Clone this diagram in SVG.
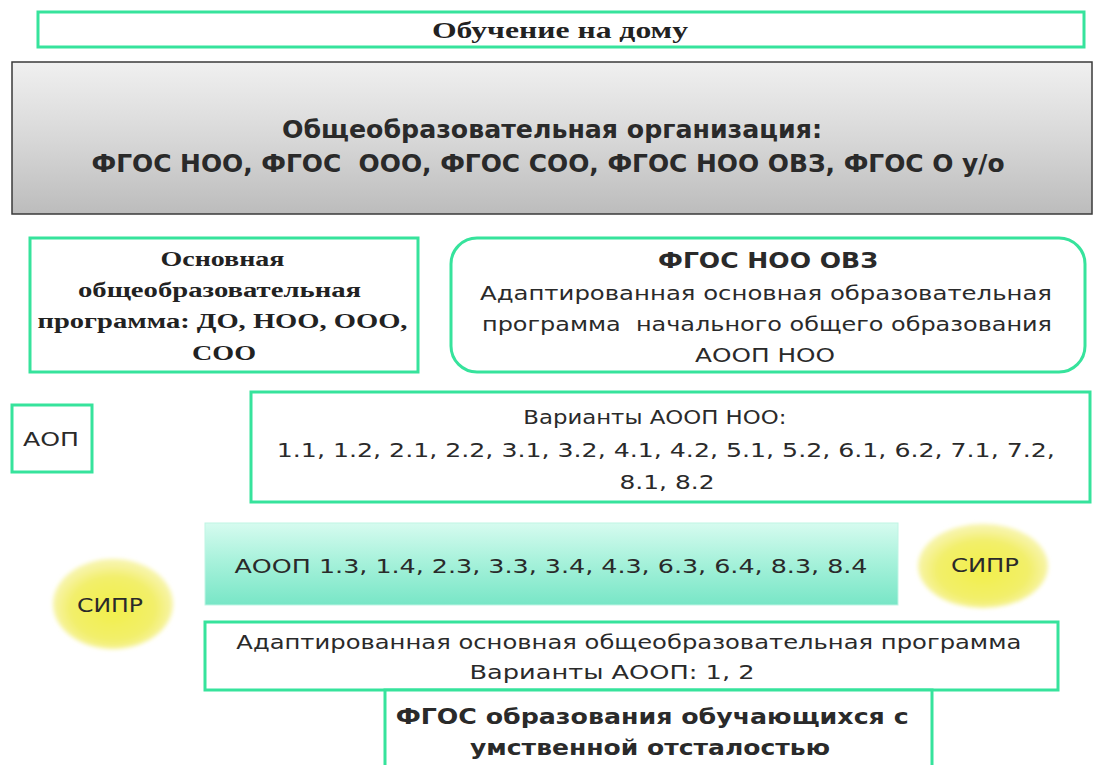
<svg xmlns="http://www.w3.org/2000/svg" width="1108" height="765" viewBox="0 0 1108 765">
<defs>
<linearGradient id="gray" x1="0" y1="0" x2="0" y2="1">
<stop offset="0" stop-color="#f0f0f0"/><stop offset="0.5" stop-color="#d8d8d8"/><stop offset="1" stop-color="#bcbcbc"/>
</linearGradient>
<linearGradient id="teal" x1="0" y1="0" x2="0" y2="1">
<stop offset="0" stop-color="#d6fbef"/><stop offset="0.45" stop-color="#a9f2dc"/><stop offset="1" stop-color="#78e6c6"/>
</linearGradient>
<radialGradient id="yel" cx="0.5" cy="0.55" r="0.5">
<stop offset="0" stop-color="#f3f04a"/><stop offset="0.7" stop-color="#f2ef6a"/><stop offset="1" stop-color="#f7f4a8"/>
</radialGradient>
<filter id="soft" x="-20%" y="-20%" width="140%" height="140%"><feGaussianBlur stdDeviation="2"/></filter>
<style>
.box{fill:#ffffff;stroke:#36e39c;stroke-width:3}
.serif{font-family:"Liberation Serif","DejaVu Serif",serif;font-weight:bold;fill:#222}
.sans{font-family:"DejaVu Sans","Liberation Sans",sans-serif;fill:#2a2a2a}
.b{font-weight:bold}
</style>
</defs>
<rect width="1108" height="765" fill="#ffffff"/>
<g id="connectors"/>
<g id="n-home">
<rect class="box" x="38" y="12" width="1046" height="35"/>
<text class="serif" x="560" y="38" font-size="23" text-anchor="middle" textLength="256" lengthAdjust="spacingAndGlyphs">Обучение на дому</text>
</g>
<g id="n-org">
<rect x="12" y="62" width="1080" height="152" fill="url(#gray)" stroke="#3a3a3a" stroke-width="1.5"/>
<text class="sans b" x="552" y="138" font-size="24" text-anchor="middle" textLength="540" lengthAdjust="spacingAndGlyphs" fill="#111">Общеобразовательная организация:</text>
<text class="sans b" x="548" y="172" font-size="24" text-anchor="middle" textLength="913" lengthAdjust="spacingAndGlyphs" fill="#111" xml:space="preserve">ФГОС НОО, ФГОС  ООО, ФГОС СОО, ФГОС НОО ОВЗ, ФГОС О у/о</text>
</g>
<g id="n-basic">
<rect class="box" x="30" y="238" width="388" height="134"/>
<text class="serif" font-size="20" text-anchor="middle">
<tspan x="225" y="266" textLength="124" lengthAdjust="spacingAndGlyphs">Основная</tspan>
<tspan x="222" y="297" textLength="283" lengthAdjust="spacingAndGlyphs">общеобразовательная</tspan>
<tspan x="225" y="328" textLength="370" lengthAdjust="spacingAndGlyphs">программа: ДО, НОО, ООО,</tspan>
<tspan x="224" y="360" textLength="64" lengthAdjust="spacingAndGlyphs">СОО</tspan>
</text>
</g>
<g id="n-ovz">
<rect class="box" x="451" y="238" width="634" height="134" rx="26"/>
<text class="sans b" x="768" y="268" font-size="21" text-anchor="middle" textLength="220" lengthAdjust="spacingAndGlyphs" fill="#111">ФГОС НОО ОВЗ</text>
<text class="sans" font-size="20" text-anchor="middle" xml:space="preserve"><tspan x="766" y="300" textLength="572" lengthAdjust="spacingAndGlyphs">Адаптированная основная образовательная</tspan><tspan x="767" y="331" textLength="570" lengthAdjust="spacingAndGlyphs">программа  начального общего образования</tspan><tspan x="765" y="362" textLength="140" lengthAdjust="spacingAndGlyphs">АООП НОО</tspan></text>
</g>
<g id="n-aop">
<rect class="box" x="12" y="405" width="80" height="67"/>
<text class="sans" x="51" y="446" font-size="20" text-anchor="middle" textLength="56" lengthAdjust="spacingAndGlyphs">АОП</text>
</g>
<g id="n-variants">
<rect class="box" x="251" y="392" width="839" height="110"/>
<text class="sans" font-size="20" text-anchor="middle">
<tspan x="658" y="424" textLength="263" lengthAdjust="spacingAndGlyphs">Варианты АООП НОО:</tspan>
<tspan x="669" y="457" textLength="778" lengthAdjust="spacingAndGlyphs">1.1, 1.2, 2.1, 2.2, 3.1, 3.2, 4.1, 4.2, 5.1, 5.2, 6.1, 6.2, 7.1, 7.2,</tspan>
<tspan x="667" y="489" textLength="95" lengthAdjust="spacingAndGlyphs">8.1, 8.2</tspan>
</text>
</g>
<g id="n-aoop13">
<rect x="205" y="523" width="693" height="82" fill="url(#teal)" stroke="#bff5e4" stroke-width="1"/>
<text class="sans" x="551" y="573" font-size="20" text-anchor="middle" textLength="633" lengthAdjust="spacingAndGlyphs">АООП 1.3, 1.4, 2.3, 3.3, 3.4, 4.3, 6.3, 6.4, 8.3, 8.4</text>
</g>
<g id="n-sipr-left">
<ellipse cx="113" cy="604" rx="60" ry="45" fill="url(#yel)" filter="url(#soft)"/>
<text class="sans" x="110" y="612" font-size="20" text-anchor="middle" textLength="66" lengthAdjust="spacingAndGlyphs">СИПР</text>
</g>
<g id="n-sipr-right">
<ellipse cx="983" cy="566" rx="65" ry="42" fill="url(#yel)" filter="url(#soft)"/>
<text class="sans" x="985" y="572" font-size="20" text-anchor="middle" textLength="68" lengthAdjust="spacingAndGlyphs">СИПР</text>
</g>
<g id="n-aoop12">
<rect class="box" x="205" y="622" width="853" height="68"/>
<text class="sans" font-size="20" text-anchor="middle">
<tspan x="632" y="649" textLength="785" lengthAdjust="spacingAndGlyphs">Адаптированная основная общеобразовательная программа</tspan>
<tspan x="612" y="679" textLength="285" lengthAdjust="spacingAndGlyphs">Варианты АООП: 1, 2</tspan>
</text>
</g>
<g id="n-fgos-uo">
<rect class="box" x="385" y="690" width="547" height="78"/>
<text class="sans b" font-size="22" text-anchor="middle" fill="#111">
<tspan x="656" y="724" textLength="513" lengthAdjust="spacingAndGlyphs">ФГОС образования обучающихся с</tspan>
<tspan x="650" y="755" textLength="360" lengthAdjust="spacingAndGlyphs">умственной отсталостью</tspan>
</text>
</g>
</svg>
